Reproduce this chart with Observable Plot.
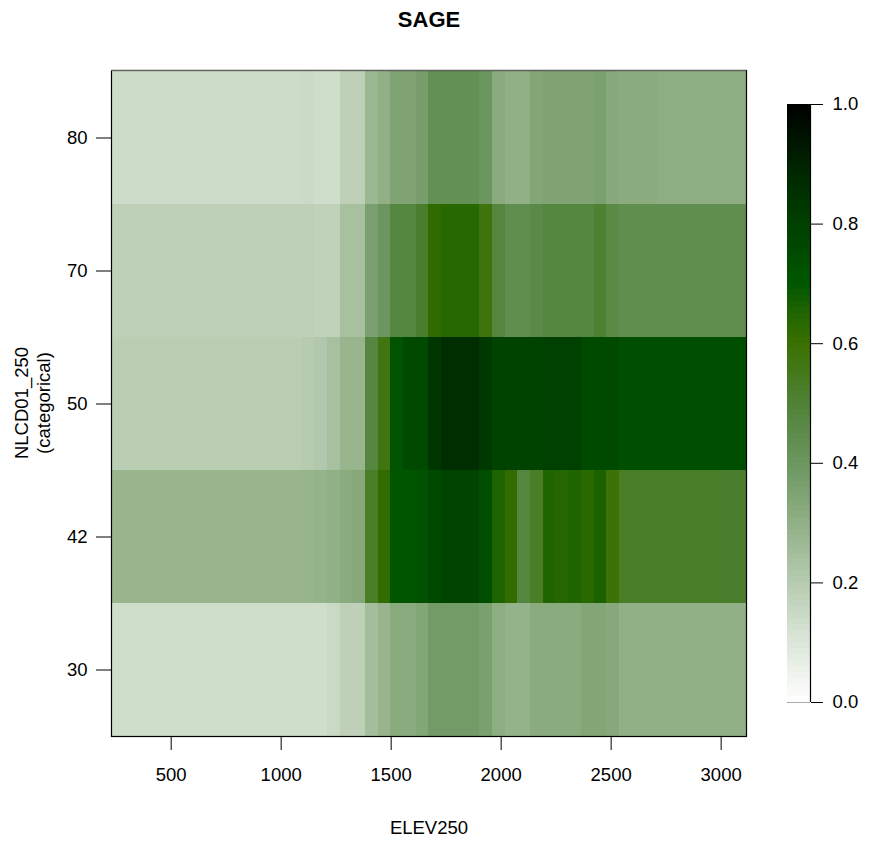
<!DOCTYPE html>
<html><head><meta charset="utf-8">
<script src="https://cdn.jsdelivr.net/npm/d3@7"></script>
<script src="https://cdn.jsdelivr.net/npm/@observablehq/plot@0.6"></script>
<style>
body{margin:0;background:#fff;}
#wrap{position:relative;width:871px;height:841px;font-family:"Liberation Sans",Arial,Helvetica,sans-serif;color:#000;}
#wrap svg{position:absolute;top:0;}
.t{position:absolute;white-space:nowrap;line-height:1;}
</style></head><body><div id="wrap"></div>
<script>
// ---- data ----
const title = "SAGE";
const xLabel = "ELEV250";
const yLabel1 = "NLCD01_250";
const yLabel2 = "(categorical)";
const nlcdCats = ["80", "70", "50", "42", "30"];
const xTicks = [500, 1000, 1500, 2000, 2500, 3000];
const legendTicks = [0, 0.2, 0.4, 0.6, 0.8, 1.0];
const elev = [257.6, 315.3, 373.0, 430.7, 488.5, 546.2, 603.9, 661.7, 719.4, 777.1,
  834.9, 892.6, 950.3, 1008.1, 1065.8, 1123.5, 1181.3, 1239.0, 1296.7, 1354.4,
  1412.2, 1469.9, 1527.6, 1585.4, 1643.1, 1700.8, 1758.6, 1816.3, 1874.0, 1931.8,
  1989.5, 2047.2, 2104.9, 2162.7, 2220.4, 2278.1, 2335.9, 2393.6, 2451.3, 2509.1,
  2566.8, 2624.5, 2682.3, 2740.0, 2797.7, 2855.4, 2913.2, 2970.9, 3028.6, 3086.4];
const sage80 = [0.14, 0.14, 0.14, 0.14, 0.14, 0.14, 0.14, 0.14, 0.14, 0.14,
  0.14, 0.14, 0.14, 0.14, 0.14, 0.145, 0.133, 0.133, 0.18, 0.18,
  0.27, 0.30, 0.35, 0.35, 0.37, 0.43, 0.43, 0.43, 0.43, 0.40,
  0.32, 0.30, 0.30, 0.34, 0.35, 0.35, 0.35, 0.35, 0.36, 0.33,
  0.32, 0.32, 0.32, 0.31, 0.31, 0.31, 0.31, 0.31, 0.31, 0.31];
const sage70 = [0.18, 0.18, 0.18, 0.18, 0.18, 0.18, 0.18, 0.18, 0.18, 0.18,
  0.18, 0.18, 0.18, 0.18, 0.18, 0.18, 0.175, 0.175, 0.24, 0.24,
  0.36, 0.40, 0.48, 0.48, 0.52, 0.62, 0.635, 0.635, 0.635, 0.58,
  0.48, 0.44, 0.44, 0.46, 0.48, 0.48, 0.48, 0.48, 0.51, 0.46,
  0.44, 0.44, 0.44, 0.44, 0.44, 0.44, 0.44, 0.44, 0.44, 0.44];
const sage50 = [0.19, 0.19, 0.19, 0.19, 0.19, 0.19, 0.19, 0.19, 0.19, 0.19,
  0.19, 0.19, 0.19, 0.19, 0.19, 0.20, 0.21, 0.24, 0.28, 0.28,
  0.48, 0.57, 0.71, 0.755, 0.755, 0.83, 0.86, 0.86, 0.86, 0.825,
  0.79, 0.79, 0.79, 0.79, 0.80, 0.80, 0.80, 0.755, 0.755, 0.755,
  0.73, 0.73, 0.73, 0.73, 0.73, 0.73, 0.73, 0.73, 0.73, 0.73];
const sage42 = [0.28, 0.28, 0.28, 0.28, 0.28, 0.28, 0.28, 0.28, 0.28, 0.28,
  0.28, 0.28, 0.28, 0.28, 0.28, 0.285, 0.29, 0.30, 0.32, 0.33,
  0.53, 0.615, 0.70, 0.70, 0.72, 0.76, 0.78, 0.78, 0.78, 0.73,
  0.655, 0.615, 0.48, 0.53, 0.65, 0.64, 0.65, 0.63, 0.66, 0.59,
  0.53, 0.53, 0.53, 0.53, 0.53, 0.53, 0.53, 0.53, 0.52, 0.52];
const sage30 = [0.135, 0.135, 0.135, 0.135, 0.135, 0.135, 0.135, 0.135, 0.135, 0.135,
  0.135, 0.135, 0.135, 0.135, 0.135, 0.135, 0.135, 0.15, 0.18, 0.18,
  0.25, 0.28, 0.32, 0.32, 0.34, 0.38, 0.38, 0.38, 0.38, 0.36,
  0.31, 0.29, 0.29, 0.32, 0.32, 0.32, 0.32, 0.34, 0.34, 0.33,
  0.30, 0.30, 0.30, 0.30, 0.30, 0.30, 0.30, 0.30, 0.30, 0.30];
const rowValues = {"80": sage80, "70": sage70, "50": sage50, "42": sage42, "30": sage30};
// colour ramp (white -> green -> black)
const rampStops = [0, 0.1, 0.2, 0.3, 0.4, 0.5, 0.6, 0.65, 0.7, 0.8, 0.9, 1.0];
const rampColors = ["#ffffff", "#dce6d9", "#b6cbb0", "#91b086", "#6c965f", "#4f8237",
  "#3a7000", "#206400", "#005600", "#004000", "#002200", "#000000"];

// ---- build ----
const font = '"Liberation Sans", Arial, Helvetica, sans-serif';
const FS = 18.5;
const cells = [];
for (const c of nlcdCats) elev.forEach((e, i) => cells.push({nlcd: c, elev: e, v: rowValues[c][i]}));
const half = (elev[1] - elev[0]) / 2;
const colorOpts = {type: "linear", domain: rampStops, range: rampColors, interpolate: "rgb"};

const topLine = (index, scales, values, dim) => {
  const g = document.createElementNS("http://www.w3.org/2000/svg", "line");
  g.setAttribute("x1", dim.marginLeft); g.setAttribute("x2", dim.width - dim.marginRight);
  g.setAttribute("y1", dim.marginTop); g.setAttribute("y2", dim.marginTop);
  g.setAttribute("stroke", "#c4c4c4"); g.setAttribute("stroke-width", 1.2);
  return g;
};

const main = Plot.plot({
  width: 760, height: 841,
  marginLeft: 111, marginRight: 14, marginTop: 70, marginBottom: 105,
  style: {fontFamily: font, fontSize: FS + "px", background: "transparent", color: "#000"},
  x: {domain: [elev[0] - half, elev[elev.length - 1] + half]},
  y: {type: "band", domain: nlcdCats, padding: 0},
  color: colorOpts,
  marks: [
    Plot.barX(cells, {x1: d => d.elev - half, x2: d => d.elev + half, y: "nlcd", fill: "v", inset: 0, shapeRendering: "crispEdges"}),
    Plot.frame({stroke: "#000", strokeWidth: 1.2}),
    topLine,
    Plot.axisX({ticks: xTicks, tickFormat: d => String(d), tickSize: 14, tickPadding: 17, label: null, fontSize: FS}),
    Plot.axisY({tickSize: 15, tickPadding: 9, label: null, fontSize: FS})
  ]
});

const bands = d3.range(100).map(i => ({y1: i / 100, y2: (i + 1) / 100, v: (i + 0.5) / 100}));
const legend = Plot.plot({
  width: 111, height: 841,
  marginLeft: 27, marginRight: 61, marginTop: 104, marginBottom: 139,
  style: {fontFamily: font, fontSize: FS + "px", background: "transparent", color: "#000"},
  x: {domain: [0, 1], axis: null},
  y: {domain: [0, 1]},
  color: colorOpts,
  marks: [
    Plot.rect(bands, {x1: 0, x2: 1, y1: "y1", y2: "y2", fill: "v", shapeRendering: "crispEdges"}),
    Plot.ruleY([0], {x1: 0, x2: 1, stroke: "#aaa"}),
    Plot.ruleX([1], {y1: 0, y2: 1, stroke: "#000", strokeWidth: 1.2}),
    Plot.axisY({anchor: "right", ticks: legendTicks, tickFormat: d3.format(".1f"), tickSize: 12, tickPadding: 10, label: null, fontSize: FS})
  ]
});
legend.style.left = "760px";

const wrap = document.getElementById("wrap");
wrap.appendChild(main);
wrap.appendChild(legend);

function addText(txt, x, y, opts = {}) {
  const d = document.createElement("div");
  d.className = "t";
  d.textContent = txt;
  d.style.fontSize = (opts.size || FS) + "px";
  if (opts.bold) d.style.fontWeight = "bold";
  d.style.left = x + "px"; d.style.top = y + "px";
  d.style.transform = "translate(-50%,-50%)" + (opts.rotate ? " rotate(-90deg)" : "");
  wrap.appendChild(d);
}
addText(title, 429, 20, {size: 22, bold: true});
addText(xLabel, 429, 828);
addText(yLabel1, 22, 403, {rotate: true});
addText(yLabel2, 44, 403, {rotate: true});
</script></body></html>
